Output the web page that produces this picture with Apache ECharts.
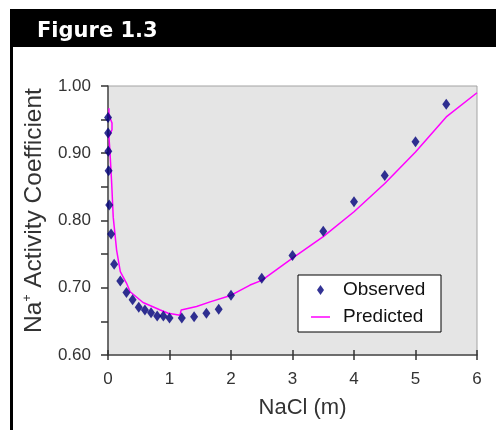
<!DOCTYPE html>
<html>
<head>
<meta charset="utf-8">
<script src="https://cdn.jsdelivr.net/npm/echarts@6/dist/echarts.min.js"></script>
<style>
  html, body { margin: 0; padding: 0; background: #ffffff; }
  #chart { width: 496px; height: 430px; }
</style>
</head>
<body>
<div id="chart"></div>
<script>
// Na+ activity coefficient vs NaCl molality
const observedX = [0.001, 0.002, 0.005, 0.01, 0.02, 0.05, 0.1, 0.2, 0.3, 0.4, 0.5, 0.6, 0.7, 0.8, 0.9, 1.0, 1.2, 1.4, 1.6, 1.8, 2.0, 2.5, 3.0, 3.5, 4.0, 4.5, 5.0, 5.5];
const observedY = [0.953, 0.930, 0.903, 0.874, 0.823, 0.780, 0.735, 0.710, 0.693, 0.682, 0.671, 0.667, 0.663, 0.658, 0.658, 0.655, 0.655, 0.657, 0.662, 0.668, 0.689, 0.714, 0.748, 0.784, 0.828, 0.867, 0.917, 0.973];

// model curve, in the order the points were computed
const predictedX = [0.015, 0.015, 0.065, 0.065, 0.015, 0.03, 0.06, 0.085, 0.14, 0.2, 0.3, 0.36, 0.57, 0.85, 0.98, 1.17, 1.19, 1.44, 1.66, 1.98, 2.31, 2.5, 3.0, 3.5, 4.0, 4.5, 5.0, 5.5, 6.0];
const predictedY = [0.967, 0.957, 0.945, 0.935, 0.925, 0.905, 0.855, 0.805, 0.756, 0.724, 0.707, 0.694, 0.678, 0.667, 0.662, 0.659, 0.667, 0.672, 0.679, 0.688, 0.704, 0.711, 0.744, 0.776, 0.813, 0.855, 0.902, 0.954, 0.990];

const xTickValues = [0, 1, 2, 3, 4, 5, 6];
const yTickLabels = ['0.60', '0.70', '0.80', '0.90', '1.00'];

const seriesNames = ['Observed', 'Predicted'];
const figureTitle = 'Figure 1.3';
const xAxisTitle = 'NaCl (m)';

const observedData = observedX.map((x, i) => [x, observedY[i]]);
const predictedData = predictedX.map((x, i) => [x, predictedY[i]]);

const FONT = '"Liberation Sans", Arial, sans-serif';
const diamondPath = 'path://M3.5,0 L7,5 L3.5,10 L0,5 Z';
const dashPath = 'path://M0,0 L19,0 L19,1.5 L0,1.5 Z';

const chart = echarts.init(document.getElementById('chart'), null, { renderer: 'canvas' });

chart.setOption({
  animation: false,
  backgroundColor: '#ffffff',
  title: {
    text: figureTitle,
    left: 32,
    top: 16,
    z: 10,
    textStyle: {
      color: '#ffffff',
      fontFamily: '"DejaVu Sans", Verdana, sans-serif',
      fontWeight: 'bold',
      fontSize: 21
    }
  },
  graphic: [
    { type: 'rect', left: 10, top: 9, z: 0, shape: { width: 486, height: 38 }, style: { fill: '#000000' } },
    { type: 'rect', left: 10, top: 47, z: 0, shape: { width: 3, height: 383 }, style: { fill: '#000000' } }
  ],
  grid: {
    left: 108,
    right: 19,
    top: 86,
    bottom: 75,
    show: true,
    backgroundColor: '#e5e5e5',
    borderColor: '#a3a3a3',
    borderWidth: 1
  },
  legend: {
    orient: 'vertical',
    left: 298,
    top: 275,
    backgroundColor: '#ffffff',
    borderColor: '#000000',
    borderWidth: 1,
    borderRadius: 0,
    padding: [5, 10, 5, 13],
    itemWidth: 19,
    itemHeight: 10,
    itemGap: 7,
    symbolKeepAspect: true,
    selectedMode: false,
    textStyle: {
      fontFamily: FONT,
      fontSize: 19,
      color: '#111111',
      lineHeight: 20,
      width: 88,
      padding: [0, 0, 0, 8]
    },
    data: [
      { name: seriesNames[0], icon: diamondPath },
      { name: seriesNames[1], icon: dashPath }
    ]
  },
  xAxis: [
    {
      type: 'value',
      min: 0,
      max: 6,
      interval: 1,
      name: xAxisTitle,
      nameLocation: 'middle',
      nameGap: 42,
      nameTextStyle: { fontFamily: FONT, fontSize: 22, color: '#333333', padding: [0, 0, 0, 20] },
      axisLine: { show: true, lineStyle: { color: '#4d4d4d', width: 1.5 } },
      axisTick: { show: true, inside: false, length: 5, lineStyle: { color: '#333333', width: 1.5 } },
      axisLabel: {
        margin: 16,
        fontFamily: FONT,
        fontSize: 17,
        color: '#333333',
        formatter: v => xTickValues.includes(Math.round(v)) ? String(Math.round(v)) : ''
      },
      splitLine: { show: false }
    },
    {
      type: 'value',
      min: 0,
      max: 6,
      interval: 1,
      position: 'bottom',
      axisLine: { show: false },
      axisTick: { show: true, inside: true, length: 5, lineStyle: { color: '#333333', width: 1.5 } },
      axisLabel: { show: false },
      splitLine: { show: false }
    }
  ],
  yAxis: {
    type: 'value',
    min: 0.6,
    max: 1.0,
    interval: 0.05,
    name: 'Na{sup|+} Activity Coefficient',
    nameLocation: 'middle',
    nameGap: 54,
    nameTextStyle: {
      fontFamily: FONT,
      fontSize: 24.5,
      color: '#333333',
      padding: [0, 0, 0, 20],
      rich: {
        sup: { fontFamily: FONT, fontSize: 12, color: '#333333', verticalAlign: 'top', padding: [0, 0, 10, 0] }
      }
    },
    axisLine: { show: true, lineStyle: { color: '#4d4d4d', width: 1.5 } },
    axisTick: { show: true, inside: false, length: 7, lineStyle: { color: '#333333', width: 1.5 } },
    axisLabel: {
      margin: 17,
      fontFamily: FONT,
      fontSize: 17,
      color: '#333333',
      formatter: v => {
        const s = v.toFixed(2);
        return yTickLabels.includes(s) ? s : '';
      }
    },
    splitLine: { show: false }
  },
  series: [
    {
      name: seriesNames[1],
      type: 'line',
      data: predictedData,
      symbol: 'none',
      smooth: false,
      z: 2,
      lineStyle: { color: '#ff00ff', width: 1.5 },
      itemStyle: { color: '#ff00ff' }
    },
    {
      name: seriesNames[0],
      type: 'scatter',
      data: observedData,
      symbol: 'diamond',
      symbolSize: [8, 11],
      z: 3,
      itemStyle: { color: '#00007a' }
    }
  ]
});
</script>
</body>
</html>
